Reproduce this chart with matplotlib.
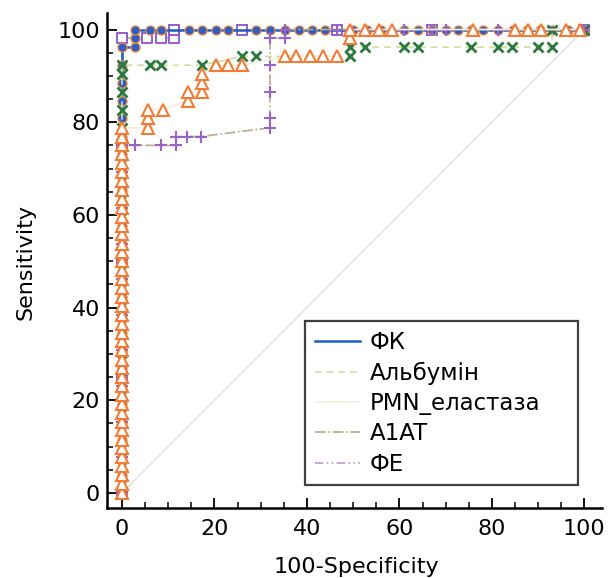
import matplotlib
matplotlib.use("Agg")
import matplotlib.pyplot as plt
from matplotlib.lines import Line2D
from matplotlib.ticker import MultipleLocator

plt.rcParams['font.family'] = ['DejaVu Sans']

labels = ['ФК', 'Альбумін', 'PMN_еластаза', 'A1AT', 'ФЕ']

# Sensitivities at 100-Specificity = 0 (vertical segment)
fk_stack = [0, 3.8, 7.7, 11.5, 15.4, 19.2, 23.1, 26.9, 30.8, 34.6, 38.5, 42.3, 46.2,
            50.0, 53.8, 57.7, 61.5, 65.4, 69.2, 73.1, 76.9, 80.8, 84.6, 88.5, 92.3, 96.2]
fk_x = [2.8, 2.8, 2.8, 6.0, 8.5, 14.5, 17.3, 20.3, 23.0, 29.0, 32.0, 35.3, 38.2, 41.0,
        44.0, 50.0, 53.0, 56.0, 61.0, 64.0, 67.0, 70.0, 72.6, 75.5, 78.0, 81.4, 84.5,
        87.5, 90.5, 93.0, 96.5, 100.0]
fk_y = [96.2, 98.1, 100, 100, 100, 100, 100, 100, 100, 100, 100, 100, 100, 100,
        100, 100, 100, 100, 100, 100, 100, 100, 100, 100, 100, 100, 100,
        100, 100, 100, 100, 100]

alb_stack = [0, 1.9, 5.8, 9.6, 13.5, 17.3, 21.2, 25.0, 28.8, 32.7, 36.5, 40.4, 44.2,
             48.1, 51.9, 55.8, 59.6, 63.5, 67.3, 71.2, 75.0, 78.8, 82.7, 86.5, 90.4, 92.3]
alb_x = [6.0, 8.5, 17.3, 26.0, 29.0, 49.4, 49.4, 52.6, 61.0, 64.0, 75.4, 81.4, 84.4,
         90.0, 93.0, 93.0, 100.0]
alb_y = [92.3, 92.3, 92.3, 94.2, 94.2, 94.2, 96.2, 96.2, 96.2, 96.2, 96.2, 96.2, 96.2,
         96.2, 96.2, 100, 100]

pmn_stack = [0, 1.9, 3.8, 5.8, 7.7, 9.6, 11.5, 13.5, 15.4, 17.3, 19.2, 21.2, 23.1, 25.0,
             26.9, 28.8, 30.8, 32.7, 34.6, 36.5, 38.5, 40.4, 42.3, 44.2, 46.2, 48.1,
             50.0, 51.9, 53.8, 55.8, 57.7, 59.6, 61.5, 63.5, 65.4, 67.3, 69.2, 71.2,
             73.1, 75.0, 76.9, 78.8]
pmn_x = [5.6, 5.6, 5.6, 8.8, 14.3, 14.3, 17.3, 17.3, 17.3, 20.3, 23.0, 26.0, 35.3,
         37.6, 40.6, 43.4, 46.4, 49.4, 49.4, 52.6, 55.5, 58.3, 76.0, 85.0, 87.8, 90.6,
         96.0, 99.0]
pmn_y = [78.8, 80.8, 82.7, 82.7, 84.6, 86.5, 86.5, 88.5, 90.4, 92.3, 92.3, 92.3, 94.2,
         94.2, 94.2, 94.2, 94.2, 98.1, 100, 100, 100, 100, 100, 100, 100, 100,
         100, 100]

a1at_stack = [0, 7.7, 15.4, 23.1, 30.8, 38.5, 46.2, 53.8, 61.5, 69.2, 75.0]
a1at_x = [2.8, 8.5, 11.7, 11.7, 14.0, 17.0, 32.0, 32.0, 32.0, 32.0, 32.0, 35.3, 35.3,
          46.6, 61.0, 67.0, 70.0, 81.4, 100.0]
a1at_y = [75.0, 75.0, 75.0, 76.9, 76.9, 76.9, 78.8, 80.8, 86.5, 92.3, 98.1, 98.1, 100,
          100, 100, 100, 100, 100, 100]

fe_stack = [0, 25.0, 50.0, 75.0, 98.1]
fe_x = [5.5, 8.5, 11.3, 11.3, 26.0, 46.6, 67.0, 100.0]
fe_y = [98.1, 98.1, 98.1, 100, 100, 100, 100, 100]

line_colors = ['#1f5fbf', '#cfe09a', '#f3ece0', '#b9aa8a', '#b89acb']
line_styles = ['-', (0, (4, 3)), '-', '-.', (0, (5, 2, 1, 2, 1, 2))]
line_widths = [1.8, 1.2, 1.2, 1.2, 1.2]

fig = plt.figure(figsize=(6.08, 5.78), dpi=100)
ax = fig.add_axes([0.176, 0.1211, 0.814, 0.8564])

ax.plot([0, 100], [0, 100], color='#e2dbd2', lw=0.8, zorder=0)


def full(stack, xs, ys):
    return [0] * len(stack) + list(xs), list(stack) + list(ys)


series = [full(fk_stack, fk_x, fk_y), full(alb_stack, alb_x, alb_y),
          full(pmn_stack, pmn_x, pmn_y), full(a1at_stack, a1at_x, a1at_y),
          full(fe_stack, fe_x, fe_y)]

markers = [
    dict(marker='o', ms=6.5, mfc='#2e5fc4', mec='#f0863a', mew=0.9),
    dict(marker='x', ms=6.5, mfc='#2d7a3e', mec='#2d7a3e', mew=2.0),
    dict(marker='^', ms=9, mfc='white', mec='#f27b35', mew=1.5),
    dict(marker='+', ms=9, mfc='#9a63c8', mec='#9a63c8', mew=1.5),
    dict(marker='s', ms=7.5, mfc='white', mec='#8a55c8', mew=1.3),
]
zorders = [3, 4, 6, 5, 2]

for i, (xs, ys) in enumerate(series):
    ax.plot(xs, ys, color=line_colors[i], ls=line_styles[i], lw=line_widths[i],
            zorder=zorders[i] - 0.5)
    ax.plot(xs, ys, ls='none', zorder=zorders[i], **markers[i])

ax.set_xlim(-3.24, 103.8)
ax.set_ylim(-3.24, 103.56)
for s in ['top', 'right']:
    ax.spines[s].set_visible(False)
for s in ['left', 'bottom']:
    ax.spines[s].set_linewidth(1.8)

ax.set_xticks([0, 20, 40, 60, 80, 100])
ax.set_yticks([0, 20, 40, 60, 80, 100])
ax.xaxis.set_minor_locator(MultipleLocator(5))
ax.yaxis.set_minor_locator(MultipleLocator(5))
ax.tick_params(which='major', direction='in', length=7, width=1.3, labelsize=16)
ax.tick_params(which='minor', direction='in', length=4.5, width=1.1)
ax.tick_params(axis='x', which='major', pad=8)
ax.tick_params(axis='y', which='major', pad=5)

ax.set_xlabel('100-Specificity', fontsize=16)
ax.set_ylabel('Sensitivity', fontsize=16)
ax.xaxis.set_label_coords(0.503, -0.098)
ax.yaxis.set_label_coords(-0.145, 0.497)

handles = [Line2D([], [], color=line_colors[i], ls=line_styles[i], lw=line_widths[i])
           for i in range(5)]
leg = ax.legend(handles, labels, loc='lower left', bbox_to_anchor=(0.400, 0.046, 0.552, 0.334),
                mode='expand', fontsize=16.5, frameon=True, fancybox=False, framealpha=1,
                edgecolor='#404040', labelspacing=0.32, borderpad=0.42, handlelength=1.97,
                handletextpad=0.44, borderaxespad=0)
leg.get_frame().set_linewidth(1.6)
leg.set_zorder(10)

fig.savefig('out.png', dpi=100, facecolor='white')
